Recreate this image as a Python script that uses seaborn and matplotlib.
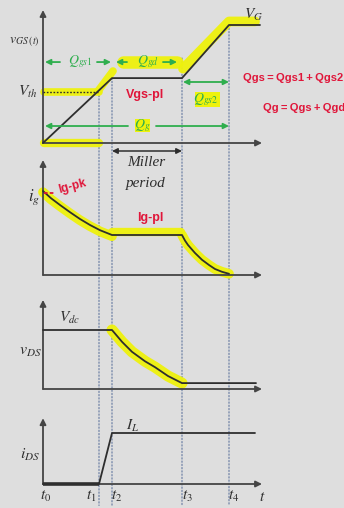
import numpy as np
import pandas as pd
import seaborn as sns
import matplotlib.pyplot as plt
from matplotlib.patches import ConnectionPatch, Rectangle

sns.set_theme(style="white")
plt.rcParams["mathtext.fontset"] = "stix"
plt.rcParams["font.family"] = ["DejaVu Sans"]

# ---- switching instants (time units) ----
T0, T1, T2, T3, T4 = 0.0, 5.6, 6.9, 13.9, 18.6
time_labels = ["$t_0$", "$t_1$", "$t_2$", "$t_3$", "$t_4$"]

# ---- gate-source voltage ----
V_TH, V_PL, V_G = 4.3, 5.5, 10.0
vgs_t = [T0, T2, T3, T4, 21.7]
vgs_v = [0.0, V_PL, V_PL, V_G, V_G]

# ---- gate current ----
ig_t = [0.0, 0.8, 1.7, 2.7, 3.7, 4.7, 5.7, 6.9, 13.9, 14.2, 14.5, 15.2, 15.9, 16.6, 17.2, 17.9, 18.6]
ig_v = [2.1, 1.92, 1.75, 1.57, 1.40, 1.25, 1.12, 1.0, 1.0, 0.86, 0.75, 0.55, 0.38, 0.25, 0.15, 0.08, 0.03]

# ---- drain-source voltage ----
vds_t = [0.0, T2, 7.9, 8.9, 10.2, 11.2, 12.5, 13.9, 21.3]
vds_v = [1.0, 1.0, 0.80, 0.63, 0.47, 0.37, 0.22, 0.10, 0.10]

# ---- drain current ----
ids_t = [T0, T1, T2, 21.2]
ids_v = [0.0, 0.0, 1.0, 1.0]

W, H = 344, 508
BG = "#dedede"
INK = "#2e2e2e"
AXC = "#454545"
GREEN = "#2fae4e"
RED = "#e0163a"
YEL = "#eef20c"
DOT = "#6f82a6"
XL = (-4.3, 30.1)
X_END = 21.9
HAND = ["Liberation Sans", "DejaVu Sans"]
TS = "\u2009"

fig = plt.figure(figsize=(W / 100, H / 100), dpi=100, facecolor=BG)


def panel(top, bottom, base, ppu):
    ax = fig.add_axes([0, 1 - bottom / H, 1, (bottom - top) / H])
    ax.set_xlim(XL)
    ax.set_ylim((base - bottom) / ppu, (base - top) / ppu)
    ax.axis("off")
    ax.set_facecolor("none")
    return ax


def axes_arrows(ax, ytop):
    kw = dict(arrowstyle="-|>", mutation_scale=9, color=AXC, lw=1.3, shrinkA=0, shrinkB=0)
    ax.annotate("", xy=(X_END, 0), xytext=(0, 0), arrowprops=kw, annotation_clip=False)
    ax.annotate("", xy=(0, ytop), xytext=(0, 0), arrowprops=kw, annotation_clip=False)


def hl(ax, xs, ys, lw=7, alpha=0.95):
    ax.plot(xs, ys, color=YEL, lw=lw, alpha=alpha, solid_capstyle="round",
            solid_joinstyle="round", zorder=1)


def wave(ax, t, v, lw=1.3):
    df = pd.DataFrame({"t": t, "v": v})
    sns.lineplot(data=df, x="t", y="v", ax=ax, color=INK, lw=lw, sort=False,
                 estimator=None, zorder=3)
    ax.set_xlim(XL)


def garrow(ax, x0, x1, y, style="-|>"):
    ax.annotate("", xy=(x1, y), xytext=(x0, y),
                arrowprops=dict(arrowstyle=style, mutation_scale=8, color=GREEN, lw=1.3,
                                shrinkA=0, shrinkB=0), annotation_clip=False, zorder=4)


serif = dict(fontfamily="Liberation Serif", style="italic")

# ================= panel 1 : v_GS =================
ax1 = panel(0, 150, 143, 11.8)
hl(ax1, [0.1, 5.6], [V_TH, V_TH], lw=5.5)
hl(ax1, [5.5, 7.0], [V_TH + 0.1, 6.1], lw=5.5)
hl(ax1, [8.0, 13.4], [6.86, 6.86], lw=9)
hl(ax1, [14.0, 18.6, 21.2], [6.3, 10.3, 10.3], lw=7)
hl(ax1, [0.1, 5.6], [0.0, 0.0], lw=6)
ax1.add_patch(Rectangle((15.2, 3.05), 2.5, 1.25, color=YEL, zorder=1, lw=0))
ax1.add_patch(Rectangle((9.2, 0.95), 1.5, 1.1, color=YEL, zorder=1, lw=0))
axes_arrows(ax1, 11.27)
wave(ax1, vgs_t, vgs_v)
ax1.plot([0, T1], [V_TH, V_TH], color=INK, lw=1.0, ls=(0, (1.2, 1.2)), zorder=3)
ax1.text(-1.5, V_TH, "$V_{th}$", fontsize=11, ha="center", va="center", color=INK)
ax1.text(-1.9, 8.6, r"$v_{GS\;(t)}$", fontsize=10, ha="center", va="center", color=INK)
ax1.text(21.0, 10.2, "$V_G$", fontsize=11, ha="center", va="bottom", color=INK)

garrow(ax1, 1.7, 0.2, 6.86)
garrow(ax1, 5.4, 6.8, 6.86)
ax1.text(3.7, 6.86, "$Q_{gs1}$", fontsize=10, color=GREEN, ha="center", va="center")
garrow(ax1, 8.4, 7.3, 6.86)
garrow(ax1, 12.0, 13.4, 6.86)
ax1.text(10.5, 6.86, "$Q_{gd}$", fontsize=10, color=GREEN, ha="center", va="center")
garrow(ax1, 14.0, 18.6, 5.17, style="<|-|>")
ax1.text(16.3, 3.64, "$Q_{gs2}$", fontsize=10, color=GREEN, ha="center", va="center")
garrow(ax1, 8.5, 0.2, 1.44)
garrow(ax1, 11.3, 18.6, 1.44)
ax1.text(9.9, 1.44, "$Q_g$", fontsize=10, color=GREEN, ha="center", va="center")

ax1.text(10.2, 4.1, "Vgs-pl", fontsize=9, color=RED, ha="center", va="center",
         fontweight="bold", fontfamily=HAND)

# ================= panel 2 : i_g =================
ax2 = panel(145, 290, 275, 40)
hl(ax2, ig_t[:8], [v - 0.03 for v in ig_v[:8]], lw=7)
hl(ax2, [T2, T3 - 0.1], [1.08, 1.08], lw=6)
hl(ax2, ig_t[8:], ig_v[8:], lw=7)
axes_arrows(ax2, 2.875)
wave(ax2, ig_t, ig_v)
ax2.text(-0.9, 1.95, "$i_g$", fontsize=12, ha="center", va="center", color=INK)
ax2.annotate("", xy=(T3, 3.1), xytext=(T2, 3.1),
             arrowprops=dict(arrowstyle="<|-|>", mutation_scale=8, color=INK, lw=1.1,
                             shrinkA=0, shrinkB=0))
ax2.text(10.3, 2.8, "Miller", fontsize=11, ha="center", va="center", color=INK, **serif)
ax2.text(10.3, 2.3, "period", fontsize=11, ha="center", va="center", color=INK, **serif)
ax2.plot([0.1, 1.2], [2.04, 2.04], color=RED, lw=1.3, ls=(0, (2, 1.2)), zorder=4)
ax2.text(2.9, 2.2, "Ig-pk", fontsize=8.5, color=RED, ha="center", va="center",
         rotation=15, fontweight="bold", fontfamily=HAND)
ax2.text(10.7, 1.43, "Ig-pl", fontsize=9, color=RED, ha="center", va="center",
         fontweight="bold", fontfamily=HAND)

# ================= panel 3 : v_DS =================
ax3 = panel(290, 400, 389, 59)
hl(ax3, vds_t[1:8], vds_v[1:8], lw=8)
axes_arrows(ax3, 1.51)
wave(ax3, vds_t, vds_v)
ax3.text(2.7, 1.2, "$V_{dc}$", fontsize=11, ha="center", va="center", color=INK)
ax3.text(-1.3, 0.63, "$v_{DS}$", fontsize=11.5, ha="center", va="center", color=INK)

# ================= panel 4 : i_DS =================
ax4 = panel(400, 508, 484, 51)
axes_arrows(ax4, 1.29)
wave(ax4, ids_t, ids_v)
ax4.plot([0, T1], [0, 0], color=INK, lw=2.6, zorder=3, solid_capstyle="butt")
ax4.text(9.0, 1.14, "$I_L$", fontsize=11, ha="center", va="center", color=INK)
ax4.text(-1.3, 0.57, "$i_{DS}$", fontsize=11.5, ha="center", va="center", color=INK)
for tx, lab, dx in zip([T0, T1, T2, T3, T4], time_labels, [0.3, -0.8, 0.5, 0.5, 0.5]):
    ax4.text(tx + dx, -0.25, lab, fontsize=11, ha="center", va="center", color=INK)
ax4.text(X_END, -0.25, "$t$", fontsize=11, ha="center", va="center", color=INK)

# ---- dotted time markers running through all panels ----
for tx, ytop in zip([T1, T2, T3, T4], [V_TH, V_PL, 7.2, V_G]):
    con = ConnectionPatch(xyA=(tx, ytop), coordsA=ax1.transData,
                          xyB=(tx, -0.42), coordsB=ax4.transData,
                          color=DOT, lw=0.9, ls=(0, (1, 1.6)), zorder=0)
    fig.add_artist(con)

# ---- charge relations ----
eq1 = f"Qgs{TS}={TS}Qgs1{TS}+{TS}Qgs2"
eq2 = f"Qg{TS}={TS}Qgs{TS}+{TS}Qgd"
fig.text(243 / W, 1 - 78 / H, eq1, fontsize=8, color=RED,
         ha="left", va="center", fontweight="bold", fontfamily=HAND)
fig.text(263 / W, 1 - 108 / H, eq2, fontsize=8, color=RED,
         ha="left", va="center", fontweight="bold", fontfamily=HAND)

fig.savefig("out.png", dpi=100, facecolor=BG)
